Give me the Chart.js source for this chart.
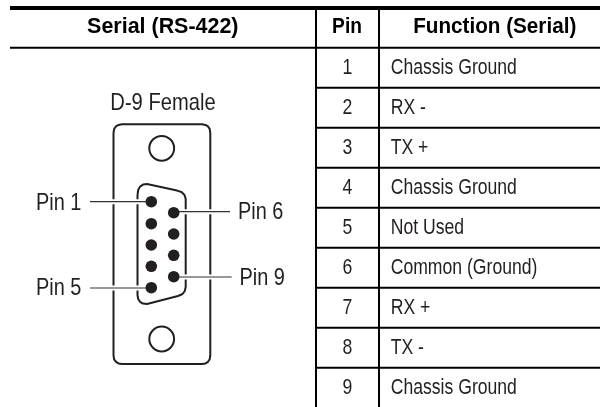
<!DOCTYPE html>
<html>
<head>
<meta charset="utf-8">
<title>Serial (RS-422)</title>
<script src="https://cdn.jsdelivr.net/npm/chart.js@4"></script>
<style>
    html, body { margin: 0; padding: 0; background: #ffffff; }
    canvas { display: block; }
</style>
</head>
<body>
<canvas id="chart" width="600" height="407"></canvas>
<script>
var headers = ['Serial (RS-422)', 'Pin', 'Function (Serial)'];
var pinNumbers = ['1', '2', '3', '4', '5', '6', '7', '8', '9'];
var pinFunctions = ['Chassis Ground', 'RX -', 'TX +', 'Chassis Ground', 'Not Used', 'Common (Ground)', 'RX +', 'TX -', 'Chassis Ground'];
var rowRules = [87.7, 127.7, 167.7, 207.7, 247.7, 287.7, 327.7, 367.7];
var columnRules = [316, 379];

// connector drawing, in page units
var shellOutline = [[113.5,133],[114.1,129],[116,126.4],[118.5,124.9],[122,124.3],[202,124.3],[205.5,124.9],[208,126.4],[209.7,129],[210.3,133],[210.3,355],[209.7,359.3],[208,361.8],[205.5,363.4],[202,364],[122,364],[118.5,363.4],[116,361.8],[114.1,359.3],[113.5,355],[113.5,133]];
var shroudOutline = [[137.5,195],[138.2,190],[140,186.6],[143,184.6],[147,184],[177,190.6],[181.5,192],[184.5,195],[185.7,199],[185.7,287],[184.8,291],[182.5,294],[178,296],[147,304],[143,303.6],[140,301.8],[138.2,299],[137.5,295],[137.5,195]];
var screwHoles = [[161.7,148.3],[161.7,339]];
var pinDots = [[151.3,201.7],[151.3,223.7],[151.3,245],[151.3,266.3],[151.3,287.7],[173.7,212.7],[173.7,234],[173.7,255.3],[173.7,276.7]];
var leaders = [
    [[90,201.7],[151,201.7]],
    [[90,288],[151,288]],
    [[174,211.7],[230,211.7]],
    [[174,277],[231.7,277]]
];
var leaderLabels = ['Pin 1', 'Pin 5', 'Pin 6', 'Pin 9'];

function toPoints(list) {
    return list.map(function (p) { return { x: p[0], y: p[1] }; });
}

function lineSet(list, color, width) {
    return {
        data: toPoints(list),
        showLine: true,
        borderColor: color,
        borderWidth: width,
        borderJoinStyle: 'round',
        pointRadius: 0,
        clip: false
    };
}

var ink = '#231f20';
var datasets = [];

datasets.push(lineSet([[10,8],[600,8]], '#000000', 4));
datasets.push(lineSet([[10,47.7],[600,47.7]], '#000000', 2));
columnRules.forEach(function (x) {
    datasets.push(lineSet([[x,8],[x,407]], '#000000', 2));
});
rowRules.forEach(function (y) {
    datasets.push(lineSet([[316,y],[600,y]], '#000000', 2));
});

datasets.push(lineSet(shellOutline, ink, 2));
datasets.push(lineSet(shroudOutline, ink, 2));
leaders.forEach(function (l) {
    datasets.push(lineSet(l, '#ffffff', 5));
});
leaders.forEach(function (l) {
    datasets.push(lineSet(l, '#333333', 1.2));
});
datasets.push({
    data: toPoints(screwHoles),
    pointRadius: 12.4,
    pointBackgroundColor: '#ffffff',
    pointBorderColor: ink,
    pointBorderWidth: 2,
    showLine: false,
    clip: false
});
datasets.push({
    data: toPoints(pinDots),
    pointRadius: 5.8,
    pointBackgroundColor: ink,
    pointBorderWidth: 0,
    showLine: false,
    clip: false
});
// chart.js paints the first dataset last
datasets.reverse();

var textPlugin = {
    id: 'tableText',
    afterDatasetsDraw: function (chart) {
        var ctx = chart.ctx;
        var sx = chart.scales.x;
        var sy = chart.scales.y;
        // no narrow face is installed, so squeeze Liberation Sans sideways
        function put(text, x, y, align, font, squeeze) {
            ctx.save();
            ctx.font = font;
            ctx.textAlign = align;
            ctx.textBaseline = 'alphabetic';
            ctx.translate(sx.getPixelForValue(x), sy.getPixelForValue(y));
            ctx.scale(squeeze, 1);
            ctx.fillText(text, 0, 0);
            ctx.restore();
        }
        var bold = 'bold 22px "Liberation Sans"';
        var table = '22px "Liberation Sans"';
        var label = '24px "Liberation Sans"';
        ctx.save();
        ctx.fillStyle = '#000000';
        put(headers[0], 162.8, 33, 'center', bold, 0.975);
        put(headers[1], 347, 33, 'center', bold, 0.87);
        put(headers[2], 494.7, 33, 'center', bold, 0.94);
        ctx.fillStyle = ink;
        pinNumbers.forEach(function (n, i) {
            var base = 74 + i * 40;
            put(n, 347.5, base, 'center', table, 0.8);
            put(pinFunctions[i], 390.7, base, 'left', table, 0.8);
        });
        put('D-9 Female', 163, 110, 'center', label, 0.84);
        put(leaderLabels[0], 36, 210, 'left', label, 0.83);
        put(leaderLabels[1], 36, 295, 'left', label, 0.83);
        put(leaderLabels[2], 238, 219, 'left', label, 0.83);
        put(leaderLabels[3], 239.5, 285, 'left', label, 0.83);
        ctx.restore();
    }
};

new Chart(document.getElementById('chart'), {
    type: 'scatter',
    data: { datasets: datasets },
    options: {
        responsive: false,
        animation: false,
        layout: { padding: 0, autoPadding: false },
        plugins: { legend: { display: false }, tooltip: { enabled: false } },
        scales: {
            x: { type: 'linear', min: 0, max: 600, display: false },
            y: { type: 'linear', min: 0, max: 407, reverse: true, display: false }
        }
    },
    plugins: [textPlugin]
});
</script>
</body>
</html>
